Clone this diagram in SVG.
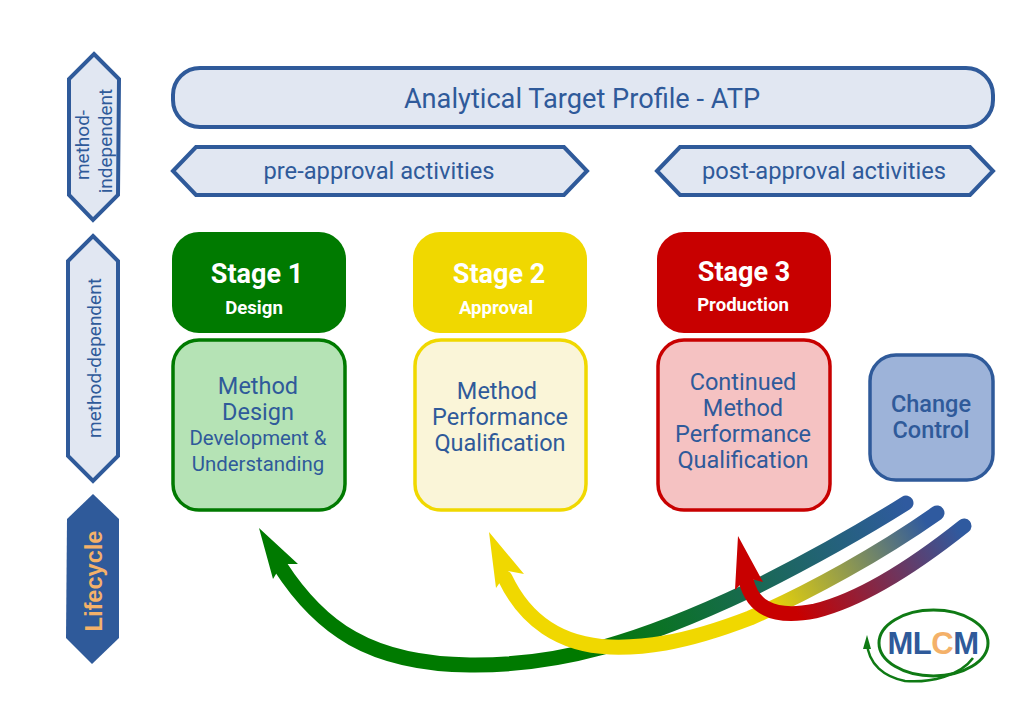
<svg xmlns="http://www.w3.org/2000/svg" width="1024" height="722" viewBox="0 0 1024 722">
<style>
text{font-family:Roboto,"Liberation Sans",sans-serif;text-anchor:middle}
.b{fill:#e1e7f2;stroke:#2f5a9a;stroke-width:4;stroke-linejoin:miter}
.t{fill:#2f5a9a}
.h{fill:#fff;font-weight:700}
.c{fill:none;stroke-width:15}
.r{stroke-width:3.5}
</style>
<defs>
<linearGradient id="g1" gradientUnits="userSpaceOnUse" x1="580" y1="655" x2="905" y2="503"><stop offset="0" stop-color="#007a00"/><stop offset="1" stop-color="#2f5a9f"/></linearGradient>
<linearGradient id="g2" gradientUnits="userSpaceOnUse" x1="765" y1="610" x2="925" y2="520"><stop offset="0" stop-color="#f0d800"/><stop offset="1" stop-color="#2f5a9f"/></linearGradient>
<linearGradient id="g3" gradientUnits="userSpaceOnUse" x1="800" y1="618" x2="960" y2="530"><stop offset="0" stop-color="#c80000"/><stop offset="1" stop-color="#2f5a9f"/></linearGradient>
</defs>
<rect width="1024" height="722" fill="#fff"/>
<g id="side-independent"><polygon class="b" points="94,54 119,79 118,195 93,220 69,195 69,79"/>
<text class="t" font-size="19" transform="translate(89,145) rotate(-90)">method-</text><text class="t" font-size="19" transform="translate(112,141) rotate(-90)">independent</text></g>
<g id="side-dependent"><polygon class="b" points="93,236 118,261 118,456 93,481 68,456 68,261"/>
<text class="t" font-size="19" transform="translate(101,358) rotate(-90)">method-dependent</text></g>
<g id="side-lifecycle"><polygon fill="#2f5a9a" points="93,494 119,519 119,638 92,664 66,638 67,519"/>
<text font-size="23.600" font-weight="700" fill="#f4b169" transform="translate(102,581) rotate(-90)" style="font-family:'Liberation Sans',sans-serif">Lifecycle</text></g>
<g id="atp"><rect class="b" x="173" y="68" width="820" height="59" rx="27"/><text class="t" x="582" y="108" font-size="27.200">Analytical Target Profile - ATP</text></g>
<g id="pre"><polygon class="b" points="173,171 196,147 564,147 587,171 564,195 196,195"/><text class="t" x="379" y="179" font-size="23.700">pre-approval activities</text></g>
<g id="post"><polygon class="b" points="657,171 680,147 970,147 993,171 970,195 680,195"/><text class="t" x="824" y="179" font-size="23.700">post-approval activities</text></g>
<g id="stage1"><rect x="172" y="232" width="174" height="101" rx="27" fill="#007a00"/><text class="h" x="257" y="283" font-size="27">Stage 1</text><text class="h" x="254" y="314" font-size="18.600">Design</text></g>
<g id="stage2"><rect x="413" y="232" width="174" height="101" rx="27" fill="#f0d800"/><text class="h" x="499" y="283" font-size="27">Stage 2</text><text class="h" x="496" y="314" font-size="18.600">Approval</text></g>
<g id="stage3"><rect x="657" y="232" width="174" height="101" rx="27" fill="#c80000"/><text class="h" x="744" y="281" font-size="27">Stage 3</text><text class="h" x="743" y="311" font-size="18.600">Production</text></g>
<g id="box1"><rect class="r" x="173" y="340" width="172" height="170" rx="26" fill="#b5e3b5" stroke="#007a00"/>
<text class="t" x="258" y="394" font-size="23.500">Method</text><text class="t" x="258" y="420" font-size="23.500">Design</text><text class="t" x="258" y="445" font-size="20.400">Development &amp;</text><text class="t" x="258" y="471" font-size="20.400">Understanding</text></g>
<g id="box2"><rect class="r" x="415" y="340" width="171" height="170" rx="26" fill="#faf5d8" stroke="#f0d800"/>
<text class="t" x="497" y="399" font-size="23.500">Method</text><text class="t" x="500" y="425" font-size="23.500">Performance</text><text class="t" x="500" y="451" font-size="23.500">Qualification</text></g>
<g id="box3"><rect class="r" x="658" y="340" width="172" height="170" rx="26" fill="#f5c2c2" stroke="#c80000"/>
<text class="t" x="743" y="390" font-size="23.500">Continued</text><text class="t" x="743" y="416" font-size="23.500">Method</text><text class="t" x="743" y="442" font-size="23.500">Performance</text><text class="t" x="743" y="468" font-size="23.500">Qualification</text></g>
<g id="change"><rect class="r" x="870" y="355" width="123" height="125" rx="26" fill="#9db3d9" stroke="#2f5a9a"/>
<text class="t" x="931" y="412" font-size="23.500" font-weight="500">Change</text><text class="t" x="931" y="438" font-size="23.500" font-weight="500">Control</text></g>
<g id="connectors">
<path class="c" stroke="url(#g1)" stroke-linecap="round" d="M906,503C860,532 800,565 750,590C640,642 560,666 470,665C370,664 320,628 280,566"/>
<polygon fill="#007a00" points="259,528 298,564 282,564 273,579"/>
<path class="c" stroke="url(#g2)" stroke-linecap="round" d="M937,513C880,553 810,592 750,618C680,645 640,648 610,647C560,645 525,620 505,578"/>
<polygon fill="#f0d800" points="489,532 524,574 508,571 496,588"/>
<path class="c" stroke="url(#g3)" stroke-linecap="round" d="M964,526C915,565 860,600 815,611C770,620 752,605 746,580"/>
<polygon fill="#c80000" points="738,536 763,582 747,578 735,590"/>
</g>
<g id="logo"><ellipse cx="933.500" cy="643" rx="54.500" ry="33" fill="none" stroke="#0f7a14" stroke-width="3"/>
<path d="M973,658C960,676 930,683 905,681C885,677 868,665 867,642" fill="none" stroke="#0f7a14" stroke-width="2.500"/>
<polygon fill="#0f7a14" points="867,635 871,649 863,649"/>
<text x="933" y="654" font-size="31" font-weight="700" style="font-family:'Liberation Sans',sans-serif;letter-spacing:-.5px" fill="#2f5a9a">ML<tspan fill="#f4b169">C</tspan>M</text></g>
</svg>
